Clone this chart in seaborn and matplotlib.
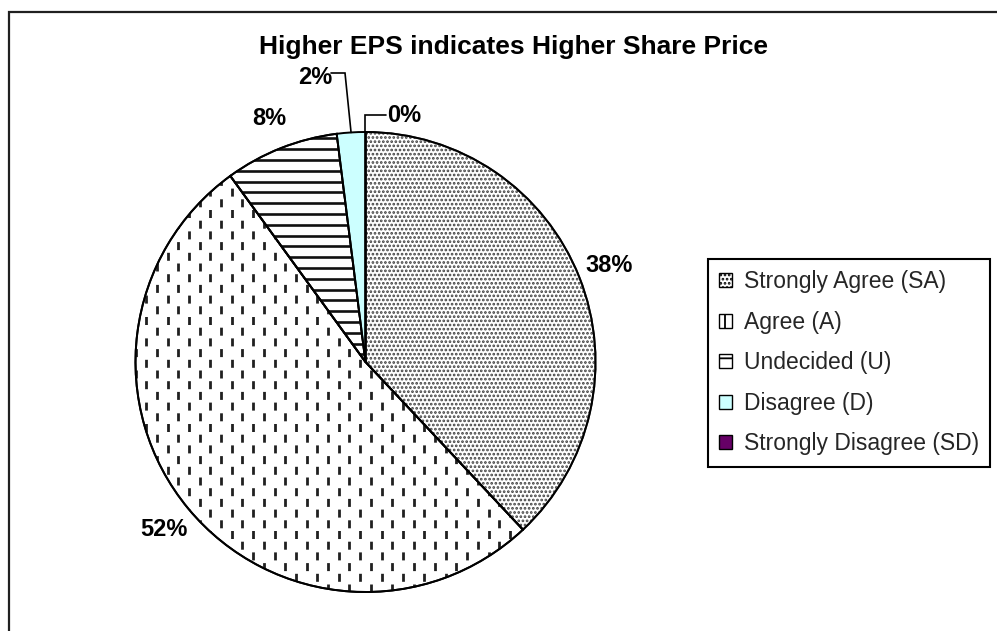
import numpy as np
import matplotlib
matplotlib.use("Agg")
import matplotlib.pyplot as plt
from matplotlib.patches import Patch, Rectangle, Wedge
import seaborn as sns

# ---- data ----
categories = ["Strongly Agree (SA)", "Agree (A)", "Undecided (U)",
              "Disagree (D)", "Strongly Disagree (SD)"]
values = [38, 52, 8, 2, 0]
title = "Higher EPS indicates Higher Share Price"
colors = ["white", "white", "white", "#CCFFFF", "#660066"]

sns.set_theme(style="white")
plt.rcParams["font.family"] = ["Liberation Sans", "DejaVu Sans"]
plt.rcParams["lines.scale_dashes"] = False
plt.rcParams["hatch.linewidth"] = 1.3

W, H = 997, 631
fig = plt.figure(figsize=(W / 100, H / 100), dpi=100)
ax = fig.add_axes([0, 0, 1, 1])

cx, cy, R = 365.5, H - 362, 230

wedges, texts, autotexts = ax.pie(
    values, colors=colors, startangle=90, counterclock=False,
    center=(cx, cy), radius=R, autopct="%1.0f%%", pctdistance=1.14,
    wedgeprops=dict(edgecolor="black", linewidth=1.4),
    textprops=dict(fontsize=17, fontweight="bold", color="black"),
)
ax.set_xlim(0, W)
ax.set_ylim(0, H)
ax.set_aspect("auto")
ax.axis("off")

# Strongly Agree: grey dot pattern
w0 = wedges[0]
w0.set_hatch("....")
w0.set_edgecolor("#404040")
ax.add_patch(Wedge(w0.center, w0.r, w0.theta1, w0.theta2, fill=False,
                   edgecolor="black", linewidth=1.4, zorder=w0.get_zorder() + 0.1))

# Agree: staggered vertical dashes
wA = wedges[1]
step = 10.7
xs = np.arange(cx - R, cx + R, step)
per_px = 21.4
dash_px = 8.0
on, off = dash_px * 0.72, (per_px - dash_px) * 0.72
for k, sub in enumerate([xs[0::2], xs[1::2]]):
    lc = ax.vlines(sub, cy - R, cy + R, colors="#202020", linewidth=2.0,
                   linestyles=[(k * per_px / 2 * 0.72, (on, off))],
                   zorder=wA.get_zorder() + 0.05)
    lc.set_clip_path(wA)

# Undecided: horizontal lines
wU = wedges[2]
ys = np.arange(cy - R, cy + R, 10.8)
lc = ax.hlines(ys, cx - R, cx + R, colors="#101010", linewidth=1.9,
               zorder=wU.get_zorder() + 0.05)
lc.set_clip_path(wU)

# redraw outlines over the patterns
for w in wedges[1:3]:
    ax.add_patch(Wedge(w.center, w.r, w.theta1, w.theta2, fill=False,
                       edgecolor="black", linewidth=1.4, zorder=w.get_zorder() + 0.1))

# leader-labelled small slices
def edge_point(w):
    ang = np.deg2rad((w.theta1 + w.theta2) / 2)
    return cx + R * np.cos(ang), cy + R * np.sin(ang)

t2 = autotexts[3]
t2.set_position((315, H - 77))
px, py = edge_point(wedges[3])
ax.plot([331, 345, px], [H - 73, H - 73, py], color="black", lw=1.2,
        solid_joinstyle="miter")

t0 = autotexts[4]
t0.set_position((404, H - 116))
px, py = edge_point(wedges[4])
ax.plot([386, px, px], [H - 115, H - 115, py], color="black", lw=1.2,
        solid_joinstyle="miter")

# title
fig.text(513 / W, (H - 47) / H, title, ha="center", va="center",
         fontsize=19, fontweight="bold", color="black")

# legend
hatches = ["....", "|", "-", "", ""]
handles = [Patch(facecolor=c, edgecolor="black", hatch=h, linewidth=1.0)
           for c, h in zip(colors, hatches)]
leg = ax.legend(handles, categories, loc="upper left",
                bbox_to_anchor=(708 / W, (H - 259) / H), bbox_transform=fig.transFigure,
                fontsize=16.5, frameon=True, fancybox=False, framealpha=1,
                edgecolor="black", handlelength=0.55, handleheight=0.55,
                handletextpad=0.5, labelspacing=0.76, borderpad=0.5,
                borderaxespad=0)
leg.get_frame().set_linewidth(1.5)

# outer chart-area frame
ax.add_patch(Rectangle((8.5, -20), 1100, H - 11.5 + 20, fill=False,
                       edgecolor="#202020", linewidth=1.6, clip_on=False))

fig.savefig("out.png", dpi=100)
